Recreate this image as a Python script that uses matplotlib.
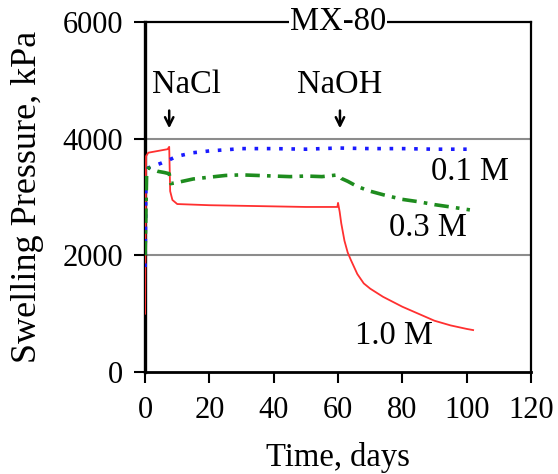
import matplotlib
matplotlib.use("Agg")
import matplotlib.pyplot as plt

plt.rcParams['font.family'] = ['Liberation Serif', 'DejaVu Serif']

# 1.0 M (red, solid)
red_t = [0, 0.3, 1, 3, 5, 7, 7.5, 7.8, 8.5, 10, 15, 20, 30, 40, 50, 55, 59.8, 60,
         60.5, 61, 62, 63, 64, 66, 68, 70, 74, 80, 85, 90, 95, 100, 102]
red_p = [1000, 3700, 3760, 3780, 3800, 3820, 3860, 3100, 2950, 2880, 2870, 2860, 2850,
         2840, 2830, 2830, 2830, 2900, 2750, 2550, 2250, 2050, 1920, 1680, 1520, 1430,
         1290, 1120, 1000, 880, 800, 740, 720]

# 0.1 M (blue, dotted)
blue_t = [0, 0.3, 1, 3, 5, 8, 10, 15, 20, 25, 30, 40, 50, 60, 70, 80, 90, 100]
blue_p = [1800, 3400, 3500, 3540, 3580, 3650, 3700, 3760, 3790, 3810, 3830, 3830, 3820,
          3840, 3830, 3830, 3820, 3820]

# 0.3 M (green, dash-dot)
green_t = [0, 0.5, 1, 2, 4, 6, 7.5, 8, 10, 15, 20, 25, 30, 35, 40, 45, 50, 55, 60, 61,
           63, 66, 70, 74, 80, 85, 90, 95, 101]
green_p = [2000, 3450, 3500, 3480, 3440, 3420, 3400, 3230, 3250, 3310, 3340, 3370, 3380,
           3370, 3360, 3350, 3360, 3350, 3380, 3320, 3270, 3180, 3100, 3040, 2960, 2920,
           2870, 2830, 2780]

x_ticks = [0, 20, 40, 60, 80, 100, 120]
y_ticks = [0, 2000, 4000, 6000]

FS = 23.5

fig = plt.figure(figsize=(5.58, 4.74), dpi=100)
ax = fig.add_axes([0.26, 0.215, 0.6916, 0.7386])

for y in [2000, 4000]:
    ax.axhline(y, color='#8c8c8c', lw=1.5, zorder=1)

ax.plot(red_t, red_p, color='#ff3030', lw=1.3, zorder=3)
ax.plot(blue_t, blue_p, color='#1a1aff', lw=2.6, linestyle=(0, (1, 2.4)), zorder=3)
ax.plot(green_t, green_p, color='#1e8c1e', lw=2.6, linestyle=(0, (4, 2, 1, 2)), zorder=3)

ax.set_xlim(0, 120)
ax.set_ylim(0, 6000)
ax.set_xticks(x_ticks)
ax.set_yticks(y_ticks)
ax.tick_params(axis='both', labelsize=22, direction='out', length=8, width=1.5, color='black')
ax.tick_params(axis='y', pad=8)
ax.tick_params(axis='x', pad=9)

ax.spines['left'].set_linewidth(2.4)
ax.spines['bottom'].set_linewidth(2.0)
ax.spines['right'].set_linewidth(1.6)
ax.spines['top'].set_linewidth(1.6)

ax.set_xlabel('Time, days', fontsize=FS)
ax.set_ylabel('Swelling Pressure, kPa', fontsize=26)
ax.xaxis.set_label_coords(0.5, -0.2)
ax.yaxis.set_label_coords(-0.262, 0.5)

ax.text(0.5, 1.0, 'MX-80', transform=ax.transAxes, ha='center', va='center',
        fontsize=FS, bbox=dict(facecolor='white', edgecolor='none', pad=1), zorder=5, clip_on=False)

ax.text(101, 3430, '0.1 M', ha='center', va='center', fontsize=FS)
ax.text(88, 2480, '0.3 M', ha='center', va='center', fontsize=FS)
ax.text(77.5, 630, '1.0 M', ha='center', va='center', fontsize=FS)

ax.text(13, 4920, 'NaCl', ha='center', va='center', fontsize=FS)
ax.text(60.6, 4920, 'NaOH', ha='center', va='center', fontsize=FS)
ax.annotate('', xy=(7.5, 4130), xytext=(7.5, 4530),
            arrowprops=dict(arrowstyle='->', lw=1.8, color='black', mutation_scale=15))
ax.annotate('', xy=(60.6, 4130), xytext=(60.6, 4530),
            arrowprops=dict(arrowstyle='->', lw=1.8, color='black', mutation_scale=15))

fig.savefig('out.png', dpi=100)
